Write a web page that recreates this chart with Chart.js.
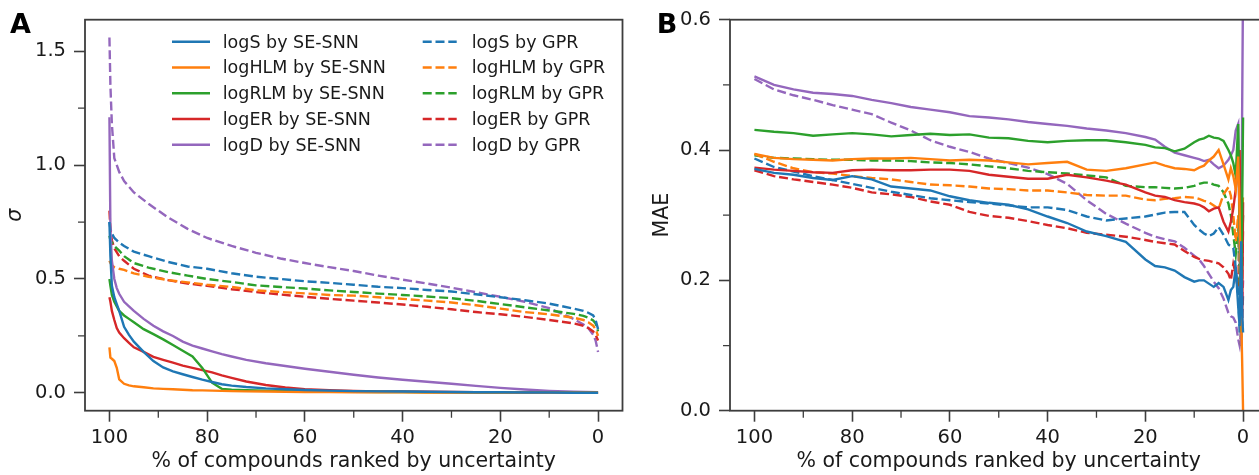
<!DOCTYPE html>
<html>
<head>
<meta charset="utf-8">
<script src="https://cdn.jsdelivr.net/npm/chart.js@4.4.1/dist/chart.umd.min.js"></script>
<style>
  html, body { margin: 0; padding: 0; background: #fff; overflow: hidden; width: 1259px; height: 475px; }
  .panel { position: absolute; top: 0; width: 640px; height: 475px; }
  #wrapA { left: 0; }
  #wrapB { left: 640px; }
</style>
</head>
<body>
<div class="panel" id="wrapA"><canvas id="chartA" width="640" height="475"></canvas></div>
<div class="panel" id="wrapB"><canvas id="chartB" width="640" height="475"></canvas></div>
<script>
// properties, in plotting order
const properties = ['logS', 'logHLM', 'logRLM', 'logER', 'logD'];
const models = ['SE-SNN', 'GPR'];

// x axis: % of compounds kept, ranked by uncertainty
const xTicks = [0, 20, 40, 60, 80, 100];
const xMinor = [10, 30, 50, 70, 90];

// ---- panel A: predicted sigma ----
const sigmaTicks = [0, 0.5, 1.0, 1.5];
const sigmaMinor = [0.25, 0.75, 1.25];

const pctSnnA = [100, 99.8, 99.5, 99, 98.5, 98, 97, 96, 95, 93, 91, 89, 87, 85, 83, 81, 79, 77, 75, 72, 68, 64, 60, 55, 50, 45, 40, 35, 30, 25, 20, 15, 10, 5, 0];
const sigmaSnnLogS   = [0.75, 0.60, 0.47, 0.42, 0.39, 0.36, 0.29, 0.255, 0.225, 0.18, 0.14, 0.112, 0.095, 0.082, 0.07, 0.058, 0.048, 0.038, 0.032, 0.026, 0.02, 0.016, 0.013, 0.01, 0.008, 0.007, 0.006, 0.005, 0.004, 0.003, 0.003, 0.002, 0.002, 0.001, 0.001];
const sigmaSnnLogHLM = [0.20, 0.155, 0.15, 0.14, 0.11, 0.06, 0.04, 0.033, 0.029, 0.025, 0.02, 0.018, 0.016, 0.014, 0.012, 0.011, 0.010, 0.009, 0.008, 0.007, 0.006, 0.005, 0.004, 0.004, 0.003, 0.003, 0.003, 0.002, 0.002, 0.002, 0.002, 0.001, 0.001, 0.001, 0.001];
const sigmaSnnLogRLM = [0.50, 0.47, 0.43, 0.40, 0.38, 0.36, 0.34, 0.325, 0.31, 0.28, 0.258, 0.235, 0.21, 0.185, 0.16, 0.11, 0.045, 0.018, 0.014, 0.012, 0.01, 0.008, 0.007, 0.006, 0.005, 0.004, 0.004, 0.003, 0.003, 0.002, 0.002, 0.002, 0.001, 0.001, 0.001];
const sigmaSnnLogER  = [0.42, 0.40, 0.36, 0.32, 0.285, 0.265, 0.24, 0.22, 0.20, 0.18, 0.158, 0.145, 0.133, 0.12, 0.11, 0.10, 0.09, 0.077, 0.066, 0.05, 0.035, 0.024, 0.016, 0.012, 0.009, 0.007, 0.006, 0.005, 0.004, 0.003, 0.003, 0.002, 0.002, 0.001, 0.001];
const sigmaSnnLogD   = [1.21, 0.72, 0.58, 0.50, 0.46, 0.435, 0.40, 0.38, 0.36, 0.325, 0.295, 0.27, 0.25, 0.225, 0.208, 0.195, 0.182, 0.17, 0.16, 0.145, 0.13, 0.118, 0.106, 0.093, 0.08, 0.068, 0.058, 0.049, 0.04, 0.031, 0.022, 0.015, 0.009, 0.005, 0.003];

const pctGprA = [100, 99.8, 99.5, 99, 98, 97, 95, 92, 88, 84, 80, 75, 70, 65, 60, 55, 50, 45, 40, 35, 30, 25, 20, 15, 10, 5, 3, 2, 1, 0.5, 0];
const sigmaGprLogS   = [0.75, 0.72, 0.70, 0.68, 0.66, 0.645, 0.62, 0.60, 0.575, 0.555, 0.545, 0.525, 0.51, 0.50, 0.49, 0.483, 0.475, 0.466, 0.46, 0.452, 0.445, 0.433, 0.42, 0.407, 0.392, 0.37, 0.36, 0.352, 0.34, 0.32, 0.28];
const sigmaGprLogHLM = [0.58, 0.57, 0.56, 0.552, 0.545, 0.54, 0.525, 0.51, 0.495, 0.485, 0.475, 0.465, 0.45, 0.443, 0.437, 0.43, 0.427, 0.42, 0.413, 0.405, 0.397, 0.385, 0.37, 0.355, 0.345, 0.33, 0.32, 0.31, 0.295, 0.28, 0.25];
const sigmaGprLogRLM = [0.69, 0.67, 0.66, 0.645, 0.625, 0.60, 0.57, 0.55, 0.53, 0.515, 0.50, 0.487, 0.472, 0.465, 0.458, 0.45, 0.443, 0.436, 0.43, 0.423, 0.416, 0.404, 0.39, 0.376, 0.362, 0.347, 0.338, 0.33, 0.318, 0.305, 0.27];
const sigmaGprLogER  = [0.80, 0.72, 0.67, 0.635, 0.60, 0.58, 0.545, 0.515, 0.495, 0.48, 0.47, 0.455, 0.443, 0.432, 0.422, 0.413, 0.405, 0.397, 0.388, 0.378, 0.367, 0.355, 0.345, 0.334, 0.32, 0.305, 0.295, 0.285, 0.27, 0.255, 0.23];
const sigmaGprLogD   = [1.56, 1.35, 1.18, 1.03, 0.97, 0.93, 0.88, 0.83, 0.77, 0.72, 0.68, 0.645, 0.615, 0.59, 0.57, 0.552, 0.535, 0.515, 0.497, 0.48, 0.462, 0.442, 0.422, 0.40, 0.372, 0.325, 0.30, 0.285, 0.255, 0.23, 0.18];

// ---- panel B: mean absolute error of the kept compounds ----
const maeTicks = [0, 0.2, 0.4, 0.6];
const maeMinor = [0.1, 0.3, 0.5];

const pctB = [100, 96, 92, 88, 84, 80, 76, 72, 68, 64, 60, 56, 52, 48, 44, 40, 36, 32, 28, 24, 20, 18, 16, 14, 12, 10, 9, 8, 7, 6, 5, 4, 3, 2.5, 2, 1.5, 1, 0.7, 0.4, 0.2, 0];
const maeSnnLogS   = [.371, .365, .362, .357, .354, .36, .355, .344, .341, .338, .329, .323, .319, .316, .309, .298, .288, .275, .268, .259, .232, .222, .22, .215, .205, .198, .20, .20, .195, .19, .196, .19, .17, .185, .19, .22, .16, .13, .26, .15, .12];
const maeSnnLogHLM = [.394, .388, .386, .385, .384, .386, .387, .387, .388, .386, .384, .385, .384, .381, .378, .38, .382, .37, .368, .372, .378, .381, .376, .372, .371, .369, .373, .376, .384, .39, .40, .378, .355, .372, .36, .34, .39, .30, .15, .08, 0];
const maeSnnLogRLM = [.431, .428, .426, .422, .424, .426, .424, .421, .423, .425, .423, .424, .419, .418, .414, .412, .414, .415, .415, .412, .408, .404, .403, .398, .402, .412, .416, .418, .422, .419, .418, .414, .40, .392, .38, .36, .44, .28, .12, .30, .45];
const maeSnnLogER  = [.373, .37, .368, .366, .365, .369, .37, .369, .369, .37, .37, .368, .362, .359, .356, .356, .362, .358, .353, .347, .335, .33, .328, .323, .32, .318, .316, .312, .306, .31, .312, .29, .275, .29, .31, .34, .38, .40, .22, .13, .32];
const maeSnnLogD   = [.513, .50, .493, .488, .486, .483, .477, .472, .466, .462, .458, .452, .45, .447, .443, .44, .437, .433, .43, .426, .42, .416, .405, .396, .392, .388, .386, .383, .385, .378, .372, .376, .385, .392, .40, .43, .44, .25, .10, .45, .66];

const maeGprLogS   = [.387, .374, .367, .36, .354, .348, .342, .336, .331, .326, .323, .32, .318, .315, .312, .312, .308, .298, .292, .295, .298, .301, .304, .305, .305, .285, .278, .272, .268, .272, .282, .27, .255, .252, .25, .22, .18, .12, .25, .13, .18];
const maeGprLogHLM = [.394, .382, .372, .366, .364, .36, .357, .355, .351, .347, .346, .344, .341, .34, .338, .338, .335, .331, .33, .33, .324, .323, .325, .326, .328, .327, .325, .322, .32, .315, .31, .332, .343, .33, .30, .26, .30, .22, .15, .30, .33];
const maeGprLogRLM = [.392, .388, .387, .386, .385, .385, .384, .384, .383, .381, .38, .378, .375, .372, .368, .366, .364, .361, .358, .345, .343, .343, .342, .341, .342, .345, .348, .35, .35, .347, .345, .335, .318, .30, .27, .24, .28, .20, .10, .25, .30];
const maeGprLogER  = [.369, .36, .355, .351, .347, .342, .335, .332, .328, .321, .316, .305, .299, .296, .291, .285, .28, .273, .27, .267, .262, .259, .257, .255, .245, .236, .233, .231, .23, .228, .226, .22, .21, .20, .225, .21, .18, .30, .10, .20, .28];
const maeGprLogD   = [.509, .493, .484, .477, .469, .462, .455, .442, .43, .415, .405, .397, .387, .38, .373, .363, .348, .323, .302, .287, .273, .267, .263, .26, .25, .238, .232, .222, .21, .198, .188, .172, .15, .145, .143, .135, .11, .10, .12, .16, .2];

const palette = ['#1f77b4', '#ff7f0e', '#2ca02c', '#d62728', '#9467bd'];
const ink = '#1a1a1a';
const spine = '#3d3d3d';
const lineW = 2.4;
const dash = [9, 3.8];

Chart.defaults.font.family = "'DejaVu Sans', sans-serif";
Chart.defaults.color = ink;

function series(model, i, pct, vals) {
  return {
    label: properties[i] + ' by ' + model,
    data: pct.map((p, k) => ({ x: p, y: vals[k] })),
    borderColor: palette[i],
    borderWidth: lineW,
    borderDash: model === 'GPR' ? dash : [],
    pointRadius: 0,
    tension: 0,
    fill: false,
    clip: 0
  };
}

// frame, minor ticks, panel letter and the two-column legend
const panelDecor = {
  id: 'panelDecor',
  afterDraw(chart, args, opts) {
    const { ctx, chartArea: a, scales: { x, y } } = chart;
    ctx.save();
    ctx.strokeStyle = spine;
    ctx.lineWidth = 1.3;
    ctx.beginPath();
    opts.minorX.forEach(v => {
      const px = x.getPixelForValue(v);
      ctx.moveTo(px, a.bottom); ctx.lineTo(px, a.bottom + 7);
    });
    opts.minorY.forEach(v => {
      const py = y.getPixelForValue(v);
      ctx.moveTo(a.left, py); ctx.lineTo(a.left - 7, py);
    });
    ctx.stroke();

    ctx.lineWidth = 1.8;
    ctx.strokeRect(a.left, a.top, a.right - a.left, a.bottom - a.top);

    ctx.fillStyle = '#000';
    ctx.font = "bold 27px 'DejaVu Sans'";
    ctx.textBaseline = 'alphabetic';
    ctx.fillText(opts.letter, opts.letterX, 33.3);

    if (opts.legend) {
      const sets = chart.data.datasets;
      ctx.font = "17.5px 'DejaVu Sans'";
      ctx.fillStyle = ink;
      const cols = [{ x0: 172, x1: 210, tx: 222.7 }, { x0: 422.7, x1: 456.7, tx: 471.7 }];
      sets.forEach((ds, k) => {
        const col = cols[k < 5 ? 0 : 1];
        const rowY = 41.7 + (k % 5) * 25.75;
        ctx.strokeStyle = ds.borderColor;
        ctx.lineWidth = lineW;
        ctx.setLineDash(ds.borderDash);
        ctx.beginPath();
        ctx.moveTo(col.x0, rowY); ctx.lineTo(col.x1, rowY);
        ctx.stroke();
        ctx.setLineDash([]);
        ctx.fillText(ds.label, col.tx, rowY + 5.8);
      });
    }
    ctx.restore();
  }
};

function xAxis() {
  return {
    type: 'linear', reverse: true, min: -5, max: 105,
    afterBuildTicks: s => { s.ticks = xTicks.map(v => ({ value: v })); },
    afterFit: s => { s.height = 64.3; },
    grid: { display: true, drawOnChartArea: false, drawTicks: true, tickLength: 11, tickWidth: 1.6, tickColor: spine },
    border: { display: false },
    ticks: { color: ink, font: { size: 19.5 }, padding: 5, maxRotation: 0, callback: v => String(v) },
    title: { display: true, text: '% of compounds ranked by uncertainty', color: ink, font: { size: 20.5 }, padding: { top: 0, bottom: 1 } }
  };
}

function yAxis(min, max, ticks, width, title, titleFont, titlePad) {
  return {
    type: 'linear', min, max,
    afterBuildTicks: s => { s.ticks = ticks.map(v => ({ value: v })); },
    afterFit: s => { s.width = width; },
    grid: { display: true, drawOnChartArea: false, drawTicks: true, tickLength: 11, tickWidth: 1.6, tickColor: spine },
    border: { display: false },
    ticks: { color: ink, font: { size: 19.5 }, padding: 8, callback: v => v.toFixed(1) },
    title: { display: true, text: title, color: ink, font: titleFont, padding: { top: titlePad, bottom: 0 } }
  };
}

function baseOptions(padRight, x, y, decor) {
  return {
    responsive: false,
    animation: false,
    events: [],
    layout: { padding: { top: 19, right: padRight, bottom: 0, left: 0 } },
    scales: { x, y },
    plugins: { legend: { display: false }, tooltip: { enabled: false }, panelDecor: decor }
  };
}

const sigmaSnn = [sigmaSnnLogS, sigmaSnnLogHLM, sigmaSnnLogRLM, sigmaSnnLogER, sigmaSnnLogD];
const sigmaGpr = [sigmaGprLogS, sigmaGprLogHLM, sigmaGprLogRLM, sigmaGprLogER, sigmaGprLogD];
const maeSnn = [maeSnnLogS, maeSnnLogHLM, maeSnnLogRLM, maeSnnLogER, maeSnnLogD];
const maeGpr = [maeGprLogS, maeGprLogHLM, maeGprLogRLM, maeGprLogER, maeGprLogD];

new Chart(document.getElementById('chartA'), {
  type: 'line',
  data: {
    datasets: [
      ...sigmaSnn.map((v, i) => series(models[0], i, pctSnnA, v)),
      ...sigmaGpr.map((v, i) => series(models[1], i, pctGprA, v))
    ]
  },
  options: baseOptions(17.5, xAxis(),
    yAxis(-0.078, 1.638, sigmaTicks, 85, 'σ', { size: 20.5, style: 'italic' }, 3.7),
    { minorX: xMinor, minorY: sigmaMinor, letter: 'A', letterX: 10, legend: true }),
  plugins: [panelDecor]
});

new Chart(document.getElementById('chartB'), {
  type: 'line',
  data: {
    datasets: [
      ...maeSnn.map((v, i) => series(models[0], i, pctB, v)),
      ...maeGpr.map((v, i) => series(models[1], i, pctB, v))
    ]
  },
  options: baseOptions(12.5, xAxis(),
    yAxis(0, 0.6, maeTicks, 90, 'MAE', { size: 20.5 }, 10.5),
    { minorX: xMinor, minorY: maeMinor, letter: 'B', letterX: 16.7, legend: false }),
  plugins: [panelDecor]
});
</script>
</body>
</html>
